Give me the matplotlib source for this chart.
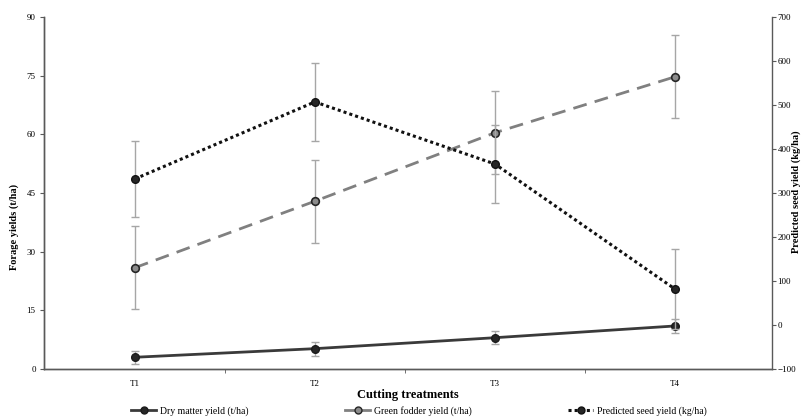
import matplotlib
matplotlib.use("Agg")
import matplotlib.pyplot as plt
from matplotlib.lines import Line2D

plt.rcParams['font.family'] = ['Liberation Serif', 'DejaVu Serif']

categories = ["T1", "T2", "T3", "T4"]
dry_matter = [3.0, 5.2, 8.0, 11.0]
dry_matter_err = [1.7, 1.75, 1.7, 1.75]
green_fodder = [25.9, 42.9, 60.4, 74.7]
green_fodder_err = [10.6, 10.6, 10.6, 10.6]
seed_yield = [332, 507, 366, 82]
seed_yield_err = [87, 89, 88, 90]

left_ticks = [0, 15, 30, 45, 60, 75, 90]
right_ticks = [-100, 0, 100, 200, 300, 400, 500, 600, 700]

fig = plt.figure(figsize=(8.03, 4.20), dpi=100)
ax = fig.add_axes([44/803, 1-369/420, (772-44)/803, (369-17)/420])
ax2 = ax.twinx()

x = list(range(len(categories)))
ecol = "#a6a6a6"

ax.errorbar(x, dry_matter, yerr=dry_matter_err, fmt="none", ecolor=ecol,
            elinewidth=1.0, capsize=3, capthick=1.0, zorder=2)
ax.plot(x, dry_matter, color="#3a3a3a", lw=2.0, ls="-", marker="o", ms=5.5,
        mfc="#262626", mec="#1a1a1a", zorder=3)
ax.errorbar(x, green_fodder, yerr=green_fodder_err, fmt="none", ecolor=ecol,
            elinewidth=1.0, capsize=3, capthick=1.0, zorder=2)
ax.plot(x, green_fodder, color="#808080", lw=2.0, ls=(0, (5, 3)), marker="o", ms=5.5,
        mfc="#8c8c8c", mec="#262626", mew=1.2, zorder=3)

ax2.errorbar(x, seed_yield, yerr=seed_yield_err, fmt="none", ecolor=ecol,
             elinewidth=1.0, capsize=3, capthick=1.0, zorder=2)
ax2.plot(x, seed_yield, color="#111111", lw=2.2, ls=(0, (1, 1)), marker="o", ms=5.5,
         mfc="#262626", mec="#111111", zorder=3)

ax.set_xlim(-0.505, 3.54)
ax.set_ylim(0, 90)
ax2.set_ylim(-100, 700)
ax.set_yticks(left_ticks)
ax2.set_yticks(right_ticks)
ax.set_xticks(x)
ax.set_xticklabels(categories)
ax.set_xticks([0.5, 1.5, 2.5], minor=True)
ax.tick_params(axis="x", which="major", length=0, labelsize=6.5, pad=8)
ax.tick_params(axis="x", which="minor", length=3, direction="out", color="#595959")
ax.tick_params(axis="y", labelsize=6.5, length=3, direction="out", color="#595959", pad=3)
ax2.tick_params(axis="y", labelsize=6.5, length=3, direction="out", color="#595959", pad=1)

for a in (ax, ax2):
    a.spines["top"].set_visible(False)
    for s in ("left", "right", "bottom"):
        a.spines[s].set_color("#595959")
        a.spines[s].set_linewidth(1.0)
ax.spines["right"].set_visible(False)

ax.set_xlabel("Cutting treatments", fontsize=9, fontweight="bold", va="center")
ax.xaxis.set_label_coords(0.5, (369-395)/352)
ax.set_ylabel("Forage yields (t/ha)", fontsize=7.5, fontweight="bold", va="center")
ax.yaxis.set_label_coords((14-44)/728, (369-227)/352)
ax2.set_ylabel("Predicted seed yield (kg/ha)", fontsize=7.5, fontweight="bold",
               rotation=90, va="center", ha="center")
ax2.yaxis.set_label_coords((796-44)/728, (369-192)/352)

handles = [
    Line2D([], [], color="#3a3a3a", lw=2.0, marker="o", ms=5, mfc="#262626", mec="#1a1a1a"),
    Line2D([], [], color="#808080", lw=2.0, marker="o", ms=5, mfc="#8c8c8c", mec="#262626"),
    Line2D([], [], color="#111111", lw=2.2, ls=(0, (1, 1)), marker="o", ms=5, mfc="#262626", mec="#111111"),
]
labels = ["Dry matter yield (t/ha)", "Green fodder yield (t/ha)", "Predicted seed yield (kg/ha)"]
fig.legend(handles, labels, loc="center left", bbox_to_anchor=(131/803, 1-411/420),
           ncol=3, frameon=False, fontsize=7, handlelength=2.6, handletextpad=0.4,
           columnspacing=9.9, borderaxespad=0, borderpad=0)

fig.savefig("out.png", dpi=100)
